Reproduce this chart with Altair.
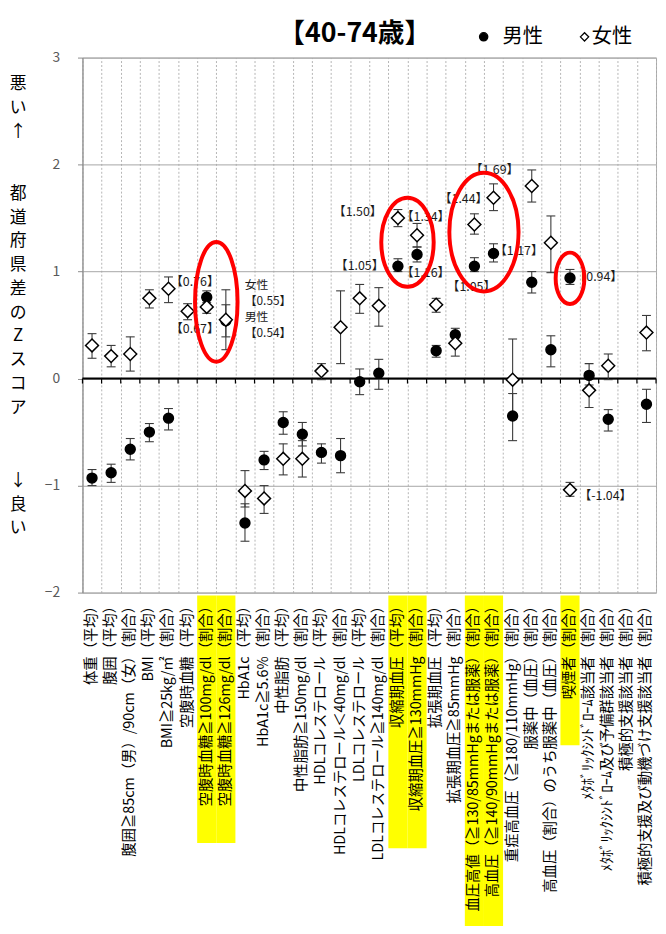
import unicodedata
import altair as alt
import pandas as pd

# ---------------- data ----------------
categories = [
    "体重（平均）", "腹囲（平均）", "腹囲≧85cm（男）/90cm（女）（割合）", "BMI（平均）",
    "BMI≧25kg/㎡（割合）", "空腹時血糖（平均）", "空腹時血糖≧100mg/dl（割合）",
    "空腹時血糖≧126mg/dl（割合）", "HbA1c（平均）", "HbA1c≧5.6%（割合）", "中性脂肪（平均）",
    "中性脂肪≧150mg/dl（割合）", "HDLコレステロール（平均）", "HDLコレステロール＜40mg/dl（割合）",
    "LDLコレステロール（平均）", "LDLコレステロール≧140mg/dl（割合）", "収縮期血圧（平均）",
    "収縮期血圧≧130mmHg（割合）", "拡張期血圧（平均）", "拡張期血圧≧85mmHg（割合）",
    "血圧高値（≧130/85mmHgまたは服薬）（割合）", "高血圧（≧140/90mmHgまたは服薬）（割合）",
    "重症高血圧（≧180/110mmHg）（割合）", "服薬中（血圧）（割合）",
    "高血圧（割合）のうち服薬中（血圧）（割合）", "喫煙者（割合）",
    "ﾒﾀﾎﾞﾘｯｸｼﾝﾄﾞﾛｰﾑ該当者（割合）", "ﾒﾀﾎﾞﾘｯｸｼﾝﾄﾞﾛｰﾑ及び予備群該当者（割合）",
    "積極的支援該当者（割合）", "積極的支援及び動機づけ支援該当者（割合）",
]
men_value = [-0.93, -0.88, -0.66, -0.50, -0.37, None, 0.76, 0.54, -1.35, -0.76, -0.41, -0.52,
             -0.69, -0.72, -0.03, 0.05, 1.05, 1.16, 0.26, 0.41, 1.05, 1.17, -0.35, 0.90, 0.27,
             0.94, 0.03, -0.38, None, -0.24]
men_low = [-1.00, -0.97, -0.76, -0.59, -0.48, None, 0.71, 0.39, -1.52, -0.85, -0.52, -0.63,
           -0.79, -0.88, -0.15, -0.10, 1.00, 1.09, 0.20, 0.35, 1.00, 1.09, -0.58, 0.80, 0.11,
           0.88, -0.06, -0.49, None, -0.41]
men_high = [-0.85, -0.80, -0.56, -0.42, -0.28, None, 0.82, 0.69, -1.17, -0.68, -0.31, -0.41,
            -0.61, -0.56, 0.09, 0.18, 1.12, 1.23, 0.31, 0.47, 1.13, 1.26, -0.14, 1.00, 0.40,
            1.02, 0.14, -0.29, None, -0.10]
women_value = [0.31, 0.21, 0.23, 0.75, 0.84, 0.63, 0.67, 0.55, -1.05, -1.12, -0.75, -0.75,
               0.07, 0.48, 0.75, 0.68, 1.50, 1.34, 0.69, 0.33, 1.44, 1.69, -0.01, 1.80, 1.27,
               -1.04, -0.11, 0.12, None, 0.43]
women_low = [0.19, 0.11, 0.07, 0.66, 0.71, 0.55, 0.61, 0.27, -1.20, -1.26, -0.90, -0.92,
             -0.01, 0.14, 0.61, 0.49, 1.42, 1.23, 0.62, 0.21, 1.35, 1.57, -0.38, 1.65, 0.99,
             -1.10, -0.27, -0.01, None, 0.26]
women_high = [0.42, 0.31, 0.39, 0.83, 0.95, 0.70, 0.73, 0.83, -0.86, -1.00, -0.61, -0.58,
              0.14, 0.82, 0.88, 0.85, 1.58, 1.45, 0.75, 0.43, 1.54, 1.82, 0.37, 1.95, 1.52,
              -0.97, 0.00, 0.23, None, 0.59]
highlighted = [7, 8, 17, 18, 21, 22, 26]          # 1-based item numbers (yellow labels)
sexes = ["男性", "女性"]
TITLE = "【40-74歳】"
Y_TITLE_BLOCKS = ["悪い↑", "都道府県差のZスコア", "↓良い"]

# ---------------- layout / style ----------------
W, H = 580, 541
FONT = "Noto Sans CJK JP"
LABEL_FS = 14.5

rows = []
for sex, vals, lows, highs in [("男性", men_value, men_low, men_high),
                               ("女性", women_value, women_low, women_high)]:
    for c, v, lo, hi in zip(categories, vals, lows, highs):
        rows.append({"cat": c, "sex": sex, "val": v, "lo": lo, "hi": hi})
df = pd.DataFrame(rows)

XSCALE = alt.Scale(type="band", domain=categories, paddingInner=0, paddingOuter=0)
YSCALE = alt.Scale(domain=[-2, 3], nice=False, zero=False)
Y_AXIS = alt.Axis(values=[-2, -1, 0, 1, 2, 3], title=None,
                  labelFont=FONT, labelFontSize=14, labelColor="#595959",
                  labelPadding=18, tickSize=5, tickColor="#8c8c8c", domainColor="#8c8c8c",
                  grid=True, gridColor="#a6a6a6")
AX_LABELS = alt.Axis(labelAngle=270, labelAlign="right", labelBaseline="middle", labelFont=FONT,
                     labelFontSize=LABEL_FS, labelColor="black", labelPadding=6, labelLimit=0,
                     labelOverlap=False, ticks=False, tickSize=0, domain=False, grid=False,
                     zindex=1)
AX_GRID = alt.Axis(labels=False, ticks=False, domain=False, grid=True, gridDash=[2, 2],
                   gridColor="#b4b4b4", tickBand="extent", zindex=0)


def xenc(axis=None, **kw):
    if axis is None:
        return alt.X("cat:N", scale=XSCALE, axis=None, title=None, **kw)
    return alt.X("cat:N", scale=XSCALE, axis=axis, title=None, **kw)


def yenc(field):
    return alt.Y(field, scale=YSCALE, axis=Y_AXIS)


# ----- yellow highlight boxes behind labels -----
NARROW_W = {"m": 0.83, "M": 0.86, "H": 0.72, "%": 0.85, "/": 0.39, ".": 0.26, "l": 0.24,
            "i": 0.24, "I": 0.29, "B": 0.63, "D": 0.7, "L": 0.52, "A": 0.64, "b": 0.57,
            "c": 0.47, "d": 0.57, "g": 0.55, "k": 0.5}


def est_em(s):
    return sum(1.0 if unicodedata.east_asian_width(ch) in "FWA" else NARROW_W.get(ch, 0.55)
               for ch in s)


groups = []
for i in highlighted:
    if groups and groups[-1][-1] == i - 1:
        groups[-1].append(i)
    else:
        groups.append([i])

layers = []
for gi, g in enumerate(groups):
    labs = [categories[i - 1] for i in g]
    end = H + 3 + max(est_em(s) for s in labs) * LABEL_FS + (44 if len(g) > 1 else 50)
    gdf = pd.DataFrame({"cat": labs})
    layers.append(
        alt.Chart(gdf).mark_rect(color="#ffff00").encode(
            x=xenc(AX_LABELS if gi == 0 else None),
            y=alt.value(H + 3), y2=alt.value(min(end, H + 360)))
    )

# ----- zero line with boundary ticks -----
zdf = pd.DataFrame({"cat": categories, "zero": [0] * len(categories)})
layers.append(alt.Chart(zdf.head(1)).mark_rule(color="black", strokeWidth=2).encode(
    y=yenc("zero:Q")))
layers.append(alt.Chart(zdf).mark_tick(color="black", size=5, thickness=1.2, orient="vertical",
                                       yOffset=2.5, opacity=1).encode(
    x=xenc(bandPosition=0), y=yenc("zero:Q")))
layers.append(alt.Chart(zdf.tail(1)).mark_tick(color="black", size=5, thickness=1.2,
                                               orient="vertical", yOffset=2.5, opacity=1).encode(
    x=xenc(bandPosition=1), y=yenc("zero:Q")))

# ----- error bars -----
ERR_C = "#3a3a3a"
layers.append(alt.Chart(df).mark_rule(color=ERR_C, strokeWidth=1.1).encode(
    x=xenc(), y=yenc("lo:Q"), y2="hi:Q"))
layers.append(alt.Chart(df).mark_tick(color=ERR_C, size=9, thickness=1.1, opacity=1).encode(
    x=xenc(AX_GRID), y=yenc("lo:Q")))
layers.append(alt.Chart(df).mark_tick(color=ERR_C, size=9, thickness=1.1, opacity=1).encode(
    x=xenc(), y=yenc("hi:Q")))

# ----- points -----
SHAPES = alt.Scale(domain=sexes, range=["circle", "diamond"])
FILLS = alt.Scale(domain=sexes, range=["black", "white"])
layers.append(alt.Chart(df).mark_point(filled=True, stroke="black", strokeWidth=1.5,
                                       opacity=1).encode(
    x=xenc(), y=yenc("val:Q"),
    shape=alt.Shape("sex:N", scale=SHAPES, legend=None),
    fill=alt.Fill("sex:N", scale=FILLS, legend=None),
    size=alt.Size("sex:N", scale=alt.Scale(domain=sexes, range=[100, 170]), legend=None),
))

# ----- legend (drawn in the title row) -----
leg_pos = {"男性": (405.7, 424.7), "女性": (507.7, 515.0)}   # symbol x, label x (px from plot left)
for sex in sexes:
    sx, lx = leg_pos[sex]
    ldf = pd.DataFrame({"sex": [sex]})
    layers.append(alt.Chart(ldf).mark_point(filled=True, stroke="black", strokeWidth=1.3,
                                            size=70, opacity=1).encode(
        x=alt.value(sx), y=alt.value(-21),
        shape=alt.Shape("sex:N", scale=SHAPES, legend=None),
        fill=alt.Fill("sex:N", scale=FILLS, legend=None)))
    layers.append(alt.Chart(ldf).mark_text(font=FONT, fontSize=20.5, color="black", align="left",
                                           baseline="middle").encode(
        x=alt.value(lx), y=alt.value(-21), text="sex:N"))

# ----- value annotations -----
def fmt(v):
    return f"【{v:.2f}】"


def val_of(item, sex):
    return (men_value if sex == "男性" else women_value)[item - 1]


ann_specs = [  # item, sex, align, dx, dy
    (7, "男性", "center", -12, -15), (7, "女性", "center", -12, 22),
    (17, "女性", "right", -16, -6), (17, "男性", "right", -14, 0),
    (18, "女性", "left", -16, -18), (18, "男性", "left", -16, 19),
    (21, "女性", "center", -11, -26), (22, "女性", "center", 1, -28),
    (21, "男性", "center", -3, 21), (22, "男性", "left", 1, -2),
    (26, "男性", "left", 4, -1), (26, "女性", "left", 9, 6),
]
for item, sex, align, dx, dy in ann_specs:
    v = val_of(item, sex)
    adf = pd.DataFrame({"cat": [categories[item - 1]], "val": [v], "t": [fmt(v)]})
    layers.append(alt.Chart(adf).mark_text(font=FONT, fontSize=12.5, color="#1a1a1a",
                                           align=align, baseline="middle", dx=dx, dy=dy).encode(
        x=xenc(), y=yenc("val:Q"), text="t:N"))

block = f"女性\n{fmt(women_value[7])}\n男性\n{fmt(men_value[7])}"
bdf = pd.DataFrame({"cat": [categories[7]], "val": [women_value[7]], "t": [block]})
layers.append(alt.Chart(bdf).mark_text(font=FONT, fontSize=12, color="#1a1a1a", align="left",
                                       baseline="top", lineBreak="\n", lineHeight=16,
                                       dx=19, dy=-40).encode(
    x=xenc(), y=yenc("val:Q"), text="t:N"))

# ----- red ellipses -----
def ellipse_path(w, h):
    s = max(w, h)
    rx, ry, k = w / s, h / s, 0.5523
    f = lambda a: f"{a:.4f}"
    return (f"M0,{f(-ry)}C{f(k*rx)},{f(-ry)} {f(rx)},{f(-k*ry)} {f(rx)},0"
            f"C{f(rx)},{f(k*ry)} {f(k*rx)},{f(ry)} 0,{f(ry)}"
            f"C{f(-k*rx)},{f(ry)} {f(-rx)},{f(k*ry)} {f(-rx)},0"
            f"C{f(-rx)},{f(-k*ry)} {f(-k*rx)},{f(-ry)} 0,{f(-ry)}Z"), s * s


ellipses = [  # item, band position, centre value, width px, height px
    (7, 1.0, 0.717, 43, 121),
    (17, 1.0, 1.274, 53, 90),
    (21, 1.0, 1.369, 70, 120),
    (26, 0.5, 0.937, 29, 52),
]
for item, bp, yc, w, h in ellipses:
    path, size = ellipse_path(w, h)
    edf = pd.DataFrame({"cat": [categories[item - 1]], "yc": [yc]})
    layers.append(alt.Chart(edf).mark_point(shape=path, size=size, filled=False, stroke="#ff0000",
                                            strokeWidth=4, opacity=1).encode(
        x=xenc(bandPosition=bp), y=yenc("yc:Q")))

# ----- title -----
tdf = pd.DataFrame({"t": [TITLE]})
layers.append(alt.Chart(tdf).mark_text(font=FONT, fontSize=27, fontWeight="bold", color="black",
                                       align="right", baseline="middle").encode(
    x=alt.value(436 - 83.3), y=alt.value(29 - 53), text="t:N"))

# ----- vertical y-axis title (stacked characters) -----
ytitle_pos = [19, 130, 420]   # top of each block, px from plot top
for txt, ty in zip(Y_TITLE_BLOCKS, ytitle_pos):
    ydf = pd.DataFrame({"t": ["\n".join(txt)]})
    layers.append(alt.Chart(ydf).mark_text(font=FONT, fontSize=17, color="black", align="center",
                                           baseline="top", lineBreak="\n", lineHeight=24).encode(
        x=alt.value(-65), y=alt.value(ty), text="t:N"))

chart = alt.layer(*layers).resolve_axis(x="independent").properties(
    width=W, height=H,
    padding={"left": 75.3, "top": 45, "right": 2, "bottom": 332},
    autosize=alt.AutoSizeParams(type="none"),
    background="white",
).configure_view(stroke="#a6a6a6", strokeWidth=1)

chart.save("out.html", embed_options={"renderer": "svg", "actions": False})
